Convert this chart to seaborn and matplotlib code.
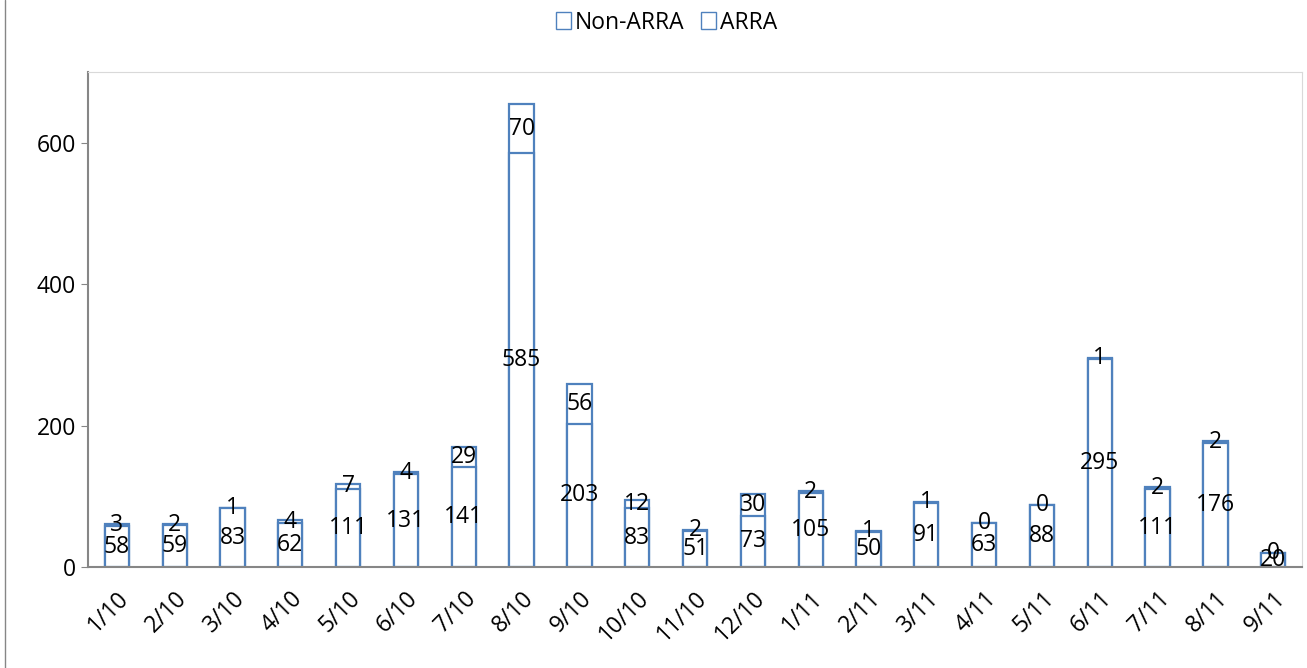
import pandas as pd
import matplotlib
matplotlib.use("Agg")
import matplotlib.pyplot as plt
import seaborn as sns
from matplotlib.patches import Patch

months = ['1/10', '2/10', '3/10', '4/10', '5/10', '6/10', '7/10', '8/10', '9/10', '10/10',
          '11/10', '12/10', '1/11', '2/11', '3/11', '4/11', '5/11', '6/11', '7/11', '8/11', '9/11']
non_arra = [58, 59, 83, 62, 111, 131, 141, 585, 203, 83, 51, 73, 105, 50, 91, 63, 88, 295, 111, 176, 20]
arra = [3, 2, 1, 4, 7, 4, 29, 70, 56, 12, 2, 30, 2, 1, 1, 0, 0, 1, 2, 2, 0]

df = pd.DataFrame({'month': months, 'Non-ARRA': non_arra, 'ARRA': arra})
df['total'] = df['Non-ARRA'] + df['ARRA']

sns.set_style('white')
plt.rcParams['font.family'] = ['Open Sans', 'DejaVu Sans']
plt.rcParams['text.color'] = 'black'
plt.rcParams['xtick.color'] = 'black'
plt.rcParams['ytick.color'] = 'black'

edge = '#4F81BD'
fs = 16.5
fig = plt.figure(figsize=(13.07, 6.68), dpi=100)
ax = fig.add_axes([0.0673, 0.151, 0.929, 0.741])

# total bar (ARRA on top), then Non-ARRA drawn over it
sns.barplot(data=df, x='month', y='total', color='white', edgecolor=edge,
            linewidth=1.6, width=0.42, ax=ax, saturation=1)
sns.barplot(data=df, x='month', y='Non-ARRA', color='white', edgecolor=edge,
            linewidth=1.6, width=0.42, ax=ax, saturation=1)

for i, row in df.iterrows():
    ax.text(i, row['Non-ARRA'] / 2, str(row['Non-ARRA']), ha='center', va='center',
            fontsize=fs, color='black')
    ax.text(i, row['Non-ARRA'] + row['ARRA'] / 2, str(row['ARRA']), ha='center', va='center',
            fontsize=fs, color='black')

ax.set_ylim(0, 700)
ax.set_xlim(-0.5, len(months) - 0.5)
ax.set_yticks([0, 200, 400, 600])
ax.tick_params(axis='y', labelsize=fs, length=5, color='#868686', left=True)
ax.tick_params(axis='x', labelsize=fs, length=0, pad=14)
plt.setp(ax.get_xticklabels(), rotation=45, ha='right', rotation_mode='anchor')
ax.set_xlabel('')
ax.set_ylabel('')

for s in ['top', 'right']:
    ax.spines[s].set_color('#D9D9D9')
for s in ['left', 'bottom']:
    ax.spines[s].set_color('#868686')
    ax.spines[s].set_linewidth(1.5)

handles = [Patch(facecolor='white', edgecolor=edge, label='Non-ARRA'),
           Patch(facecolor='white', edgecolor=edge, label='ARRA')]
fig.legend(handles=handles, loc='upper center', bbox_to_anchor=(0.51, 1.015), ncol=2,
           frameon=False, fontsize=fs, handlelength=0.65, handleheight=0.8,
           handletextpad=0.2, columnspacing=0.7)

fig.add_artist(plt.Line2D([0.004, 0.004], [0, 1], transform=fig.transFigure, color='#868686', lw=1))

fig.savefig('out.png', dpi=100)
